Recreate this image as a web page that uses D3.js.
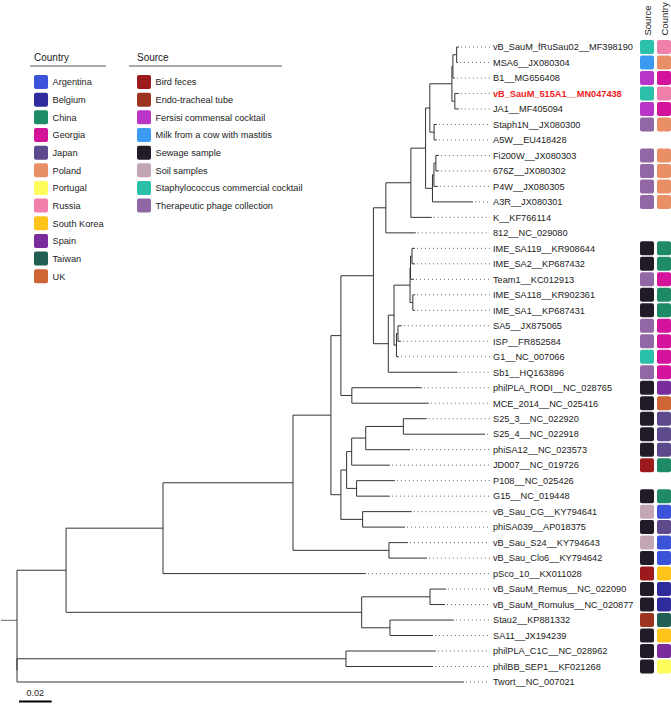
<!DOCTYPE html>
<html>
<head>
<meta charset="utf-8">
<script src="https://cdn.jsdelivr.net/npm/d3@7"></script>
<style>
  html, body { margin: 0; padding: 0; background: #fff; }
  svg { display: block; font-family: "Liberation Sans", Arial, Helvetica, sans-serif; }
</style>
</head>
<body>
<svg id="chart" width="671" height="704"></svg>
<script>
// ---------------- DATA ----------------
// Phylogeny in Newick pieces (branch lengths in substitutions/site)
const cladeX1 = "((vB_SauM_fRuSau02__MF398190:0.0014,MSA6__JX080304:0.0008):0.0023,B1__MG656408:0.0012)";
const cladeX2 = "(" + cladeX1 + ":0.0006,(vB_SauM_515A1__MN047438:0.0024,JA1__MF405094:0.0024):0.0018)";
const cladeL  = "(" + cladeX2 + ":0.0135,(Staph1N__JX080300:0.0017,A5W__EU418428:0.0017):0.0026)";
const cladeN  = "(((Fi200W__JX080303:0.0018,676Z__JX080302:0.0018):0.0012,P4W__JX080305:0.0024):0.0009,A3R__JX080301:0.0248)";
const cladeM  = "(" + cladeL + ":0.0026," + cladeN + ":0.0042)";
const cladeO  = "(" + cladeM + ":0.0090,K__KF766114:0.0128)";
const cladeP  = "(" + cladeO + ":0.0153,812__NC_029080:0.0183)";
const cladeIME = "(((IME_SA119__KR908644:0.0018,IME_SA2__KP687432:0.0018):0.0009,Team1__KC012913:0.0021):0.0003," +
                 "(IME_SA118__KR902361:0.0014,IME_SA1__KP687431:0.0014):0.0017)";
const cladeSA = "((SA5__JX875065:0.0024,ISP__FR852584:0.0018):0.0009,G1__NC_007066:0.0015)";
const cladeQ  = "((" + cladeIME + ":0.0098," + cladeSA + ":0.0015):0.0035,Sb1__HQ163896:0.0424)";
const cladeJ  = "(" + cladeP + ":0.0076," + cladeQ + ":0.0091)";
const cladeH  = "(" + cladeJ + ":0.0199,(philPLA_RODI__NC_028765:0.0428,MCE_2014__NC_025416:0.0471):0.0067)";
const cladeT  = "((S25_3__NC_022920:0.0143,S25_4__NC_022918:0.0500):0.0230,phiSA12__NC_023573:0.0271)";
const cladeS  = "(" + cladeT + ":0.0086,JD007__NC_019726:0.0234)";
const cladeR  = "(" + cladeS + ":0.0031,(P108__NC_025426:0.0234,G15__NC_019448:0.0204):0.0061)";
const cladeI  = "(" + cladeR + ":0.0035,(vB_Sau_CG__KY794641:0.0300,phiSA039__AP018375:0.0259):0.0133)";
const cladeF  = "(" + cladeH + ":0.0061," + cladeI + ":0.0061)";
const cladeE  = "(" + cladeF + ":0.0232,(vB_Sau_S24__KY794643:0.0116,vB_Sau_Clo6__KY794642:0.0232):0.0587)";
const cladeB  = "(" + cladeE + ":0.0795,pSco_10__KX011028:0.1241)";
const cladeD  = "((vB_SauM_Remus__NC_022090:0.0098,vB_SauM_Romulus__NC_020877:0.0092):0.0418," +
                "(Stau2__KP881332:0.0391,SA11__JX194239:0.0263):0.0173)";
const cladeA  = "(" + cladeB + ":0.0593," + cladeD + ":0.1808)";
const treeNewick = "(" + cladeA + ":0.0300,((philPLA_C1C__NC_028962:0.0550,philBB_SEP1__KF021268:0.0532):0.2012," +
                   "Twort__NC_007021:0.2734):0);";

const highlightTip = "vB_SauM_515A1__MN047438";

// Tip annotations (null = no data)
const tipNames = [
  "vB_SauM_fRuSau02__MF398190","MSA6__JX080304","B1__MG656408","vB_SauM_515A1__MN047438","JA1__MF405094",
  "Staph1N__JX080300","A5W__EU418428","Fi200W__JX080303","676Z__JX080302","P4W__JX080305","A3R__JX080301",
  "K__KF766114","812__NC_029080","IME_SA119__KR908644","IME_SA2__KP687432","Team1__KC012913",
  "IME_SA118__KR902361","IME_SA1__KP687431","SA5__JX875065","ISP__FR852584","G1__NC_007066","Sb1__HQ163896",
  "philPLA_RODI__NC_028765","MCE_2014__NC_025416","S25_3__NC_022920","S25_4__NC_022918","phiSA12__NC_023573",
  "JD007__NC_019726","P108__NC_025426","G15__NC_019448","vB_Sau_CG__KY794641","phiSA039__AP018375",
  "vB_Sau_S24__KY794643","vB_Sau_Clo6__KY794642","pSco_10__KX011028","vB_SauM_Remus__NC_022090",
  "vB_SauM_Romulus__NC_020877","Stau2__KP881332","SA11__JX194239","philPLA_C1C__NC_028962",
  "philBB_SEP1__KF021268","Twort__NC_007021"
];
const tipSource = [
  "Staphylococcus commercial cocktail","Milk from a cow with mastitis","Fersisi commensal cocktail",
  "Staphylococcus commercial cocktail","Fersisi commensal cocktail","Therapeutic phage collection",null,
  "Therapeutic phage collection","Therapeutic phage collection","Therapeutic phage collection",
  "Therapeutic phage collection",null,null,"Sewage sample","Sewage sample","Therapeutic phage collection",
  "Sewage sample","Sewage sample","Therapeutic phage collection","Therapeutic phage collection",
  "Staphylococcus commercial cocktail","Therapeutic phage collection","Sewage sample","Sewage sample",
  "Sewage sample","Sewage sample","Sewage sample","Bird feces",null,"Sewage sample","Soil samples",
  "Sewage sample","Soil samples","Sewage sample","Bird feces","Sewage sample","Sewage sample",
  "Endo-tracheal tube","Sewage sample","Sewage sample","Sewage sample",null
];
const tipCountry = [
  "Russia","Poland","Georgia","Russia","Georgia","Poland",null,"Poland","Poland","Poland","Poland",
  null,null,"China","China","Georgia","China","China","Georgia","Georgia","Georgia","Georgia",
  "Spain","UK","Japan","Japan","Japan","China",null,"China","Argentina","Japan","Argentina","Argentina",
  "South Korea","Belgium","Belgium","Taiwan","South Korea","Spain","Portugal",null
];

const countries = ["Argentina","Belgium","China","Georgia","Japan","Poland","Portugal","Russia",
  "South Korea","Spain","Taiwan","UK"];
const countryColors = ["#3a53d9","#2f2b9c","#1f8a68","#d4139b","#5c4a8c","#e98f68","#fdfd5e","#f07fab",
  "#fec41c","#7a2c9c","#225f53","#cd6535"];
const sources = ["Bird feces","Endo-tracheal tube","Fersisi commensal cocktail","Milk from a cow with mastitis",
  "Sewage sample","Soil samples","Staphylococcus commercial cocktail","Therapeutic phage collection"];
const sourceColors = ["#9d1a1c","#9b3520","#b736c8","#3b9bf1","#211b27","#c3a6b5","#2bc0a9","#9167a6"];

const scaleBarValue = 0.02;

// ---------------- PARSE NEWICK ----------------
function parseNewick(s) {
  let i = 0;
  function node() {
    const n = { children: [] };
    if (s[i] === "(") {
      i++;
      n.children.push(node());
      while (s[i] === ",") { i++; n.children.push(node()); }
      if (s[i] !== ")") throw new Error("Newick: expected ) at " + i);
      i++;
    }
    let name = "";
    while (i < s.length && !":,();".includes(s[i])) name += s[i++];
    n.name = name;
    if (s[i] === ":") {
      i++;
      let num = "";
      while (i < s.length && !",();".includes(s[i])) num += s[i++];
      n.length = +num;
    } else n.length = 0;
    if (!n.children.length) delete n.children;
    return n;
  }
  const r = node();
  if (s[i] !== ";") throw new Error("Newick: trailing at " + i);
  return r;
}

// ---------------- LAYOUT ----------------
const svg = d3.select("#chart");
const root = d3.hierarchy(parseNewick(treeNewick));
root.eachBefore(d => { d.dist = d.parent ? d.parent.dist + d.data.length : 0; });
const leaves = root.leaves();

const x = d3.scaleLinear().domain([0, scaleBarValue]).range([17, 17 + 32.7]);
const y = d3.scaleLinear().domain([0, leaves.length - 1]).range([47, 682]);

leaves.forEach((d, i) => { d.yy = y(i); });
root.eachAfter(d => {
  if (d.children) d.yy = (d.children[0].yy + d.children[d.children.length - 1].yy) / 2;
});

const treeColor = "#333";
const g = svg.append("g");

// root stub
g.append("line").attr("x1", 1).attr("x2", x(0)).attr("y1", root.yy).attr("y2", root.yy)
  .attr("stroke", "#666").attr("stroke-width", 1);

// vertical connectors
root.descendants().filter(d => d.children).forEach(d => {
  g.append("line")
    .attr("x1", x(d.dist)).attr("x2", x(d.dist))
    .attr("y1", d.children[0].yy).attr("y2", d.children[d.children.length - 1].yy)
    .attr("stroke", treeColor).attr("stroke-width", 1);
});
// horizontal branches
root.descendants().filter(d => d.parent).forEach(d => {
  g.append("line")
    .attr("x1", x(d.parent.dist)).attr("x2", x(d.dist))
    .attr("y1", d.yy).attr("y2", d.yy)
    .attr("stroke", treeColor).attr("stroke-width", 1);
});

// dotted leaders and labels
const labelX = 493;
leaves.forEach(d => {
  g.append("line")
    .attr("x1", x(d.dist) + 2).attr("x2", labelX - 3)
    .attr("y1", d.yy).attr("y2", d.yy)
    .attr("stroke", "#666").attr("stroke-width", 1)
    .attr("stroke-dasharray", "1,3");
  const hl = d.data.name === highlightTip;
  g.append("text")
    .attr("x", labelX).attr("y", d.yy + 3.3)
    .attr("font-size", "9.2px")
    .attr("font-weight", hl ? "bold" : "normal")
    .attr("fill", hl ? "#ee1c25" : "#222")
    .text(d.data.name);
});

// annotation squares
const cScale = d3.scaleOrdinal().domain(countries).range(countryColors);
const sScale = d3.scaleOrdinal().domain(sources).range(sourceColors);
const tipIndex = new Map(tipNames.map((n, i) => [n, i]));
leaves.forEach(d => {
  const k = tipIndex.get(d.data.name);
  if (k === undefined) return;
  if (tipSource[k]) {
    g.append("rect").attr("x", 640).attr("y", d.yy - 7).attr("width", 14).attr("height", 14)
      .attr("rx", 2).attr("fill", sScale(tipSource[k]));
  }
  if (tipCountry[k]) {
    g.append("rect").attr("x", 657).attr("y", d.yy - 7).attr("width", 14).attr("height", 14)
      .attr("rx", 2).attr("fill", cScale(tipCountry[k]));
  }
});

// column headers
[["Source", 647], ["Country", 664]].forEach(([t, cx]) => {
  svg.append("text")
    .attr("transform", `translate(${cx + 3.5},35.5) rotate(-90)`)
    .attr("text-anchor", "start")
    .attr("font-size", "9.5px").attr("fill", "#222")
    .text(t);
});

// scale bar
svg.append("line").attr("x1", x(0) + 2).attr("x2", x(scaleBarValue) + 2)
  .attr("y1", 701.5).attr("y2", 701.5).attr("stroke", "#000").attr("stroke-width", 2);
svg.append("text").attr("x", (x(0) + x(scaleBarValue)) / 2 + 2).attr("y", 696)
  .attr("text-anchor", "middle").attr("font-size", "9px").attr("fill", "#222").text(scaleBarValue);

// ---------------- LEGENDS ----------------
const legY0 = 82, legStep = 17.66;
function legend(title, names, colors, x0, lineX0, lineX1) {
  svg.append("text").attr("x", x0).attr("y", 61).attr("font-size", "10px").attr("fill", "#222").text(title);
  svg.append("line").attr("x1", lineX0).attr("x2", lineX1).attr("y1", 66).attr("y2", 66)
    .attr("stroke", "#555").attr("stroke-width", 1);
  names.forEach((n, i) => {
    const yy = legY0 + i * legStep;
    svg.append("rect").attr("x", x0).attr("y", yy - 7).attr("width", 14).attr("height", 14)
      .attr("rx", 2).attr("fill", colors[i]);
    svg.append("text").attr("x", x0 + 18.5).attr("y", yy + 3.3).attr("font-size", "9.2px")
      .attr("fill", "#222").text(n);
  });
}
legend("Country", countries, countryColors, 34, 30, 106);
legend("Source", sources, sourceColors, 137, 129, 282);
</script>
</body>
</html>
